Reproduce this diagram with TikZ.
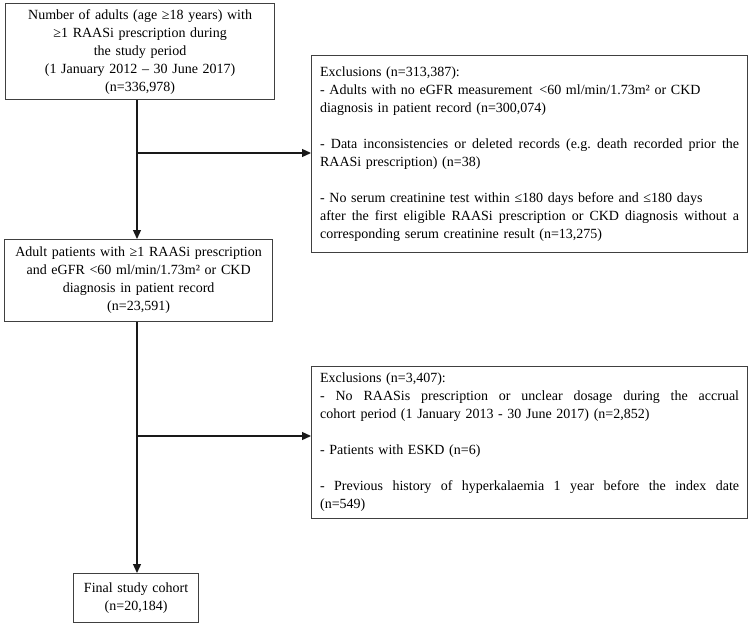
\documentclass[tikz,border=0pt]{standalone}
\usepackage{fontspec}
\setmainfont{Liberation Serif}
\usetikzlibrary{arrows.meta}
\newcommand\jline[1]{\leavevmode\hbox to 419pt{\spaceskip=\fontdimen2\font plus 1fil\relax\xspaceskip=\spaceskip #1}}
\begin{document}
\begin{tikzpicture}[x=1pt,y=-1pt,
  box/.style={draw=black!75, line width=1.2pt, inner sep=0pt, anchor=north west,
    font=\fontsize{14}{18}\selectfont},
  conn/.style={draw=black!90, line width=1.3pt, -{Triangle[length=9pt,width=8pt]}}]
\useasboundingbox (0,0) rectangle (750,626);

\node[box, minimum width=269pt, minimum height=96pt, text width=260pt, align=center] (b1) at (5,3)
  {Number of adults (age ≥18 years) with\\ ≥1 RAASi prescription during\\ the study period\\ (1 January 2012 – 30 June 2017)\\ (n=336,978)};

\node[box, minimum width=436pt, minimum height=197pt, text width=419pt, align=left] (b2) at (311,55)
  {Exclusions (n=313,387):\\
   - Adults with no eGFR measurement \,<60 ml/min/1.73m² or CKD\\
   diagnosis in patient record (n=300,074)\\[18pt]
   \jline{- Data inconsistencies or deleted records (e.g.\ death recorded prior the}\\
   RAASi prescription) (n=38)\\[18pt]
   - No serum creatinine test within ≤180 days before and ≤180 days\\
   \jline{after the first eligible RAASi prescription or CKD diagnosis without a}\\
   corresponding serum creatinine result (n=13,275)};

\node[box, minimum width=268pt, minimum height=82pt, text width=260pt, align=center] (b3) at (4,239)
  {Adult patients with ≥1 RAASi prescription\\ and eGFR <60 ml/min/1.73m² or CKD\\ diagnosis in patient record\\ (n=23,591)};

\node[box, minimum width=436pt, minimum height=152pt, text width=419pt, align=left] (b4) at (311,366)
  {Exclusions (n=3,407):\\
   \jline{- No RAASis prescription or unclear dosage during the accrual}\\
   cohort period (1 January 2013 - 30 June 2017) (n=2,852)\\[18pt]
   - Patients with ESKD (n=6)\\[18pt]
   \jline{- Previous history of hyperkalaemia 1 year before the index date}\\
   (n=549)};

\node[box, minimum width=125pt, minimum height=49pt, text width=120pt, align=center] (b5) at (73,573)
  {Final study cohort\\ (n=20,184)};

\coordinate (j1) at (137,153);
\coordinate (j2) at (137,436);

\draw[conn] (j1 |- b1.south) -- (j1 |- b3.north);
\draw[conn] (j1) -- (j1 -| b2.west);
\draw[conn] (j2 |- b3.south) -- (j2 |- b5.north);
\draw[conn] (j2) -- (j2 -| b4.west);
\end{tikzpicture}
\end{document}
